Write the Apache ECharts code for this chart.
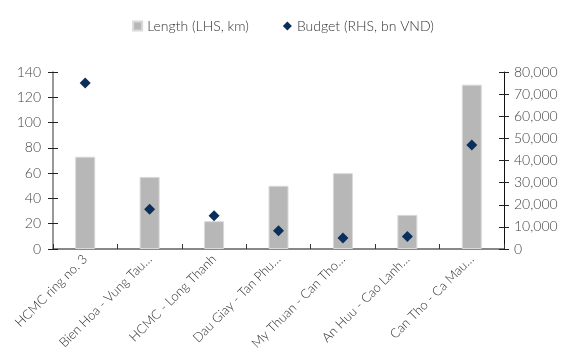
<!DOCTYPE html>
<html>
<head>
<meta charset="utf-8">
<script src="https://cdn.jsdelivr.net/npm/echarts@6/dist/echarts.min.js"></script>
<style>
  html, body { margin: 0; padding: 0; background: #fff; }
  #main { width: 566px; height: 362px; }
</style>
</head>
<body>
<div id="main"></div>
<script>
// category labels as shown (truncated in the original)
var categories = ['HCMC ring no. 3', 'Bien Hoa - Vung Tau…', 'HCMC - Long Thanh', 'Dau Giay - Tan Phu…',
  'My Thuan - Can Tho…', 'An Huu - Cao Lanh…', 'Can Tho - Ca Mau…'];
var lengthKm = [73, 57, 22, 50, 60, 27, 130];
var budgetBn = [75000, 18000, 15000, 8300, 5000, 5600, 47000];

var leftMax = 140, leftStep = 20;
var rightMax = 80000, rightStep = 10000;

var font = 'Lato';
var chart = echarts.init(document.getElementById('main'));

// 2 extra axes only to draw the ticks on the inner side (cross ticks)
function tickAxis(pos, max, step, color) {
  return {
    type: 'value', position: pos, min: 0, max: max, interval: step,
    axisLine: { show: false }, axisLabel: { show: false }, splitLine: { show: false },
    axisTick: { show: true, inside: true, length: 5, lineStyle: { color: color, width: 1 } }
  };
}

chart.setOption({
  animation: false,
  textStyle: { fontFamily: font },
  legend: {
    top: 14,
    left: 'center',
    itemGap: 34,
    itemWidth: 9,
    itemHeight: 9,
    textStyle: { fontFamily: font, fontSize: 14, fontWeight: 300, color: '#333' },
    data: [
      { name: 'Length (LHS, km)', icon: 'rect' },
      { name: 'Budget (RHS, bn VND)', icon: 'diamond' }
    ]
  },
  grid: { left: 53, right: 62, top: 72, bottom: 113 },
  xAxis: {
    type: 'category',
    data: categories,
    axisLine: { lineStyle: { color: '#888', width: 2 } },
    axisTick: { show: true, inside: true, length: 5, lineStyle: { color: '#333', width: 1 } },
    axisLabel: {
      rotate: 45, interval: 0, fontFamily: font, fontSize: 13, fontWeight: 300, color: '#333', margin: 8
    }
  },
  yAxis: [
    {
      type: 'value', position: 'left', min: 0, max: leftMax, interval: leftStep,
      axisLine: { show: true, lineStyle: { color: '#777', width: 1.5 } },
      axisTick: { show: true, length: 5, lineStyle: { color: '#222' } },
      axisLabel: { fontFamily: font, fontSize: 14, fontWeight: 300, color: '#444', margin: 12 },
      splitLine: { show: false }
    },
    {
      type: 'value', position: 'right', min: 0, max: rightMax, interval: rightStep,
      axisLine: { show: true, lineStyle: { color: '#111', width: 1 } },
      axisTick: { show: true, length: 5, lineStyle: { color: '#222' } },
      axisLabel: {
        fontFamily: font, fontSize: 14, fontWeight: 300, color: '#444', margin: 10,
        formatter: function (v) { return v.toLocaleString('en-US'); }
      },
      splitLine: { show: false }
    },
    tickAxis('left', leftMax, leftStep, '#222'),
    tickAxis('right', rightMax, rightStep, '#222')
  ],
  series: [
    {
      name: 'Length (LHS, km)',
      type: 'bar',
      yAxisIndex: 0,
      data: lengthKm,
      barWidth: 20,
      itemStyle: { color: '#b7b7b7', borderColor: '#d9d9d9', borderWidth: 1 }
    },
    {
      name: 'Budget (RHS, bn VND)',
      type: 'scatter',
      yAxisIndex: 1,
      data: budgetBn,
      symbol: 'diamond',
      symbolSize: 11,
      itemStyle: { color: '#0b2f5b', opacity: 1 }
    }
  ]
});
</script>
</body>
</html>
